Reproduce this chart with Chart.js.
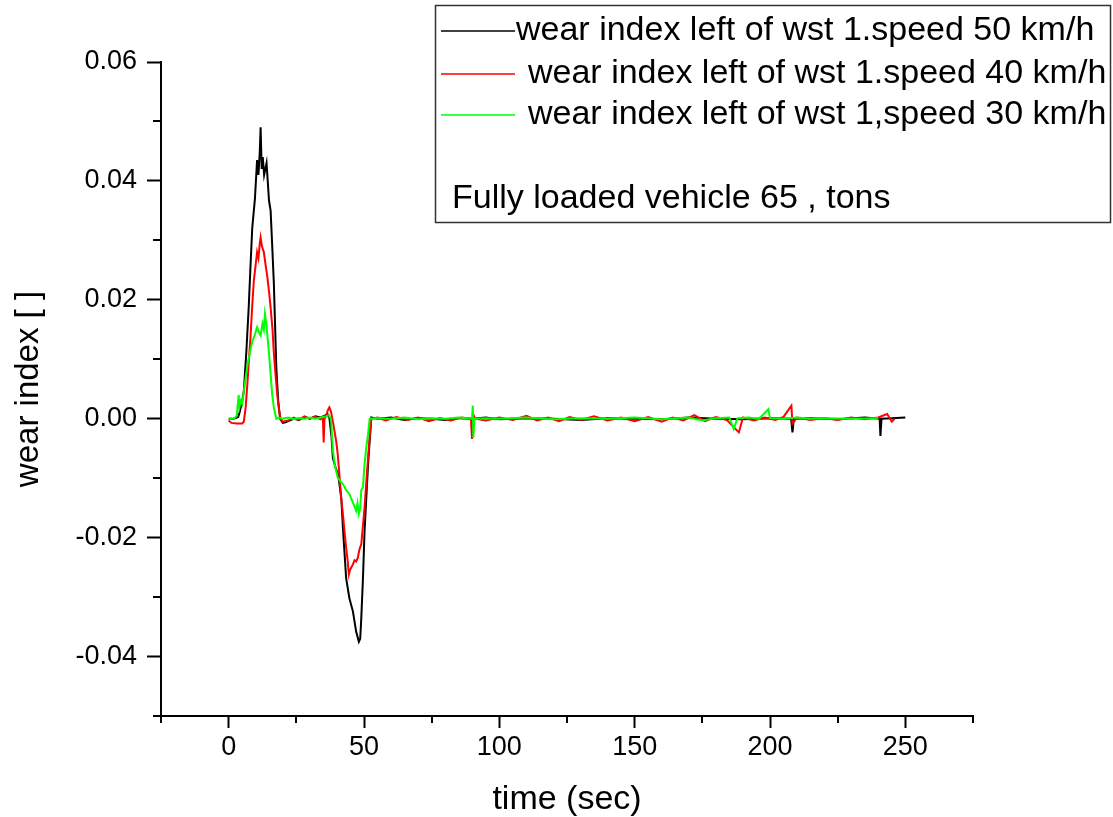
<!DOCTYPE html>
<html><head><meta charset="utf-8">
<script src="https://cdn.jsdelivr.net/npm/chart.js@4.4.1/dist/chart.umd.min.js"></script>
<style>html,body{margin:0;padding:0;background:#fff;}canvas{display:block}</style>
</head><body>
<canvas id="c" width="1113" height="817"></canvas>
<script>
// ---- data ----
const seriesLabels = [
  'wear index left of wst 1.speed 50 km/h',
  'wear index left of wst 1.speed 40 km/h',
  'wear index left of wst 1,speed 30 km/h'
];
const legendNote = 'Fully loaded vehicle 65 , tons';
const xTitle = 'time (sec)';
const yTitle = 'wear index [ ]';
const xTickValues = [0, 50, 100, 150, 200, 250];
const yTickValues = [-0.04, -0.02, 0.00, 0.02, 0.04, 0.06];
const xMinorTicks = [-25, 25, 75, 125, 175, 225, 275];
const yMinorTicks = [-0.05, -0.03, -0.01, 0.01, 0.03, 0.05];

// 50 km/h (black)
const blackT = [0, 2, 3.5, 4, 5, 5.6, 6.5, 7.4, 8, 8.7, 9.7, 10.5, 11, 11.5, 11.8, 12.2, 12.6, 13.1, 14, 14.9, 15.5, 16, 16.7, 17.6, 18.3, 19, 20, 21, 22, 24, 26, 28, 30, 32, 34, 35.5, 36.5, 37.2, 38, 38.5, 39.5, 40.5, 41.6, 42.3, 43.4, 44.6, 45.9, 47.1, 48.1, 48.6, 49, 49.6, 50.2, 51, 51.5, 52.2, 52.7,
  55, 60, 65, 70, 75, 80, 85, 90, 95, 100, 110, 120, 130, 140, 150, 160, 170, 180, 190, 200, 207.8, 208.3, 208.8, 215, 225, 235, 240.5, 240.8, 241.2, 245, 250];
const blackV = [0, 0, 0.0003, 0.001, 0.003, 0.0047, 0.011, 0.0187, 0.025, 0.032, 0.037, 0.0435, 0.041, 0.045, 0.049, 0.042, 0.044, 0.041, 0.043, 0.0367, 0.035, 0.030, 0.0227, 0.0086, 0.003, 0, -0.0007, -0.0006, -0.0004, 0, -0.0002, 0.0003, 0, 0.0004, 0.0002, 0.0005, 0.0008, 0.0002, -0.003, -0.0066, -0.0082, -0.0095, -0.0133, -0.019, -0.0268, -0.0302, -0.0324, -0.0358, -0.0375, -0.037, -0.0335, -0.027, -0.019, -0.012, -0.0077, -0.003, 0.0002,
  0, 0.0002, -0.0002, 0.0001, 0, -0.0002, 0.0001, 0, 0.0002, -0.0001, 0.0001, 0, -0.0002, 0.0001, 0, -0.0001, 0.0002, 0, -0.0001, 0.0001, 0, -0.0023, 0, 0.0001, -0.0001, 0.0002, 0, -0.0029, 0, 0.0001, 0.0002];

// 40 km/h (red)
const redT = [0, 1, 3, 5, 5.6, 6.3, 6.9, 7.5, 8.1, 8.7, 9.3, 10, 10.5, 11, 11.5, 11.8, 12.3, 13, 13.6, 14.3, 15, 15.5, 16.2, 16.7, 17.3, 17.9, 18.6, 19.2, 20, 22, 24, 26, 28, 30, 32, 34, 34.8, 35.1, 35.4, 36, 36.7, 37.2, 37.8, 38.7, 39.7, 40.3, 40.9, 41.5, 42.2, 42.8, 43.4, 44, 44.4, 44.8, 45.3, 45.9, 46.5, 47.1, 47.7, 48.3, 49, 49.6, 50.2, 50.8, 51.5, 52.1, 52.7,
  55, 58, 62, 66, 70, 74, 78, 82, 86, 89.5, 89.9, 90.3, 91, 95, 100, 105, 110, 114, 118, 122, 126, 130, 135, 140, 145, 150, 155, 160, 164, 168, 172, 176, 180, 184, 188.5, 190, 194, 198, 202, 205, 207.9, 208.3, 210, 215, 220, 225, 230, 235, 240, 243.3, 245, 246];
const redV = [-0.0003, -0.0007, -0.0008, -0.0008, -0.0005, 0.002, 0.0058, 0.010, 0.014, 0.019, 0.0232, 0.026, 0.028, 0.027, 0.0295, 0.0305, 0.029, 0.028, 0.026, 0.0238, 0.021, 0.0187, 0.015, 0.011, 0.0075, 0.0042, 0.0015, 0, -0.0005, -0.0003, 0.0002, -0.0002, 0.0004, 0, 0.0003, -0.0001, 0.0002, -0.004, 0, 0.0005, 0.0015, 0.0019, 0.0012, -0.001, -0.0037, -0.006, -0.0093, -0.013, -0.016, -0.019, -0.0217, -0.024, -0.0262, -0.0255, -0.025, -0.0245, -0.0238, -0.024, -0.0234, -0.022, -0.0211, -0.018, -0.015, -0.011, -0.0066, -0.003, 0,
  0.0002, -0.0003, 0.0003, -0.0002, 0.0002, -0.0004, 0.0001, -0.0003, 0.0002, 0, -0.0034, 0.0008, 0, -0.0003, 0.0002, -0.0002, 0.0005, -0.0003, 0.0002, -0.0004, 0.0003, -0.0002, 0.0004, -0.0003, 0.0002, -0.0004, 0.0003, -0.0005, 0.0002, -0.0003, 0.0006, -0.0004, 0.0003, -0.0002, -0.0023, 0.0002, -0.0003, 0.0002, -0.0002, 0.0003, 0.0022, -0.0008, 0.0002, -0.0002, 0.0001, -0.0002, 0.0002, -0.0001, 0.0002, 0.0008, -0.0005, 0];

// 30 km/h (green)
const greenT = [0, 2, 3, 3.7, 4, 4.5, 5, 5.6, 6.3, 6.9, 7.8, 8.7, 9.6, 10.5, 11.2, 11.8, 12.5, 13, 13.4, 13.9, 14.3, 14.9, 15.5, 16.1, 16.7, 17.2, 17.6, 18.5, 20, 22, 24, 26, 28, 30, 32, 34, 36, 37, 37.8, 38.5, 39.3, 40.3, 41.2, 42.2, 43.4, 44.6, 45.8, 47.1, 47.6, 48.1, 48.6, 49, 49.6, 50.2, 50.8, 51.5, 52.1,
  55, 60, 65, 70, 75, 80, 85, 89.9, 90.2, 90.4, 90.8, 95, 100, 110, 120, 130, 140, 150, 160, 170, 175, 180, 185, 186.6, 188, 192, 196, 199.4, 200, 205, 210, 215, 220, 230, 240];
const greenV = [0, 0, 0.0005, 0.004, 0.002, 0.003, 0.0025, 0.0047, 0.007, 0.009, 0.011, 0.013, 0.014, 0.0154, 0.0145, 0.014, 0.016, 0.015, 0.0176, 0.016, 0.014, 0.011, 0.0075, 0.004, 0.0019, 0.0008, 0, 0.0002, 0, 0.0002, -0.0001, 0.0001, 0, 0.0002, 0, 0.0002, 0.0004, 0.0006, 0, -0.0054, -0.008, -0.0099, -0.0105, -0.011, -0.012, -0.0127, -0.014, -0.0155, -0.0142, -0.016, -0.015, -0.012, -0.0115, -0.0077, -0.005, -0.0026, 0,
  0.0001, 0, 0.0002, -0.0001, 0.0001, 0, 0.0002, 0, 0.0022, -0.0032, 0, 0.0001, 0, 0.0002, -0.0001, 0.0001, 0, 0.0002, -0.0001, 0.0002, -0.0003, 0.0001, 0.0002, -0.0017, 0.0001, 0.0002, 0, 0.0016, 0.0001, 0, 0.0002, 0, 0.0001, 0, 0.0001];

// ---- chart ----
const FONT = '"Liberation Sans", Arial, sans-serif';
const seriesColors = ['#000000', '#ff0000', '#00ff00'];
const toPts = (t, v) => t.map((x, i) => ({x: x, y: v[i]}));

const overlayPlugin = {
  id: 'overlay',
  afterDraw(chart) {
    const ctx = chart.ctx;
    const xs = chart.scales.x, ys = chart.scales.y;
    ctx.save();
    ctx.strokeStyle = '#000';
    ctx.lineWidth = 2;
    // minor ticks
    const xb = chart.chartArea.bottom, yl = chart.chartArea.left;
    xMinorTicks.forEach(v => {
      const px = Math.round(xs.getPixelForValue(v));
      ctx.beginPath(); ctx.moveTo(px, xb); ctx.lineTo(px, xb + 7); ctx.stroke();
    });
    yMinorTicks.forEach(v => {
      const py = Math.round(ys.getPixelForValue(v));
      ctx.beginPath(); ctx.moveTo(yl, py); ctx.lineTo(yl - 8, py); ctx.stroke();
    });
    // legend box
    ctx.strokeStyle = '#333';
    ctx.lineWidth = 1.5;
    ctx.strokeRect(435.5, 5.5, 675, 217);
    const rows = [
      {y: 31, tx: 516},
      {y: 74, tx: 528},
      {y: 115, tx: 528}
    ];
    ctx.font = '34px ' + FONT;
    ctx.textBaseline = 'middle';
    ctx.textAlign = 'left';
    ctx.fillStyle = '#000';
    rows.forEach((r, i) => {
      ctx.strokeStyle = seriesColors[i];
      ctx.lineWidth = 1.5;
      ctx.beginPath(); ctx.moveTo(441, r.y); ctx.lineTo(515, r.y); ctx.stroke();
      ctx.fillText(seriesLabels[i], r.tx, r.y);
    });
    ctx.fillText(legendNote, 452, 199);
    ctx.restore();
  }
};

new Chart(document.getElementById('c'), {
  type: 'line',
  data: {
    datasets: [
      {label: seriesLabels[0], data: toPts(blackT, blackV), borderColor: seriesColors[0], order: 2},
      {label: seriesLabels[1], data: toPts(redT, redV), borderColor: seriesColors[1], order: 1},
      {label: seriesLabels[2], data: toPts(greenT, greenV), borderColor: seriesColors[2], order: 0}
    ].map(d => Object.assign(d, {borderWidth: 2, pointRadius: 0, tension: 0, fill: false}))
  },
  options: {
    responsive: false,
    animation: false,
    events: [],
    layout: {padding: {top: 62, right: 140, left: 0, bottom: 0}},
    plugins: {legend: {display: false}, tooltip: {enabled: false}},
    scales: {
      x: {
        type: 'linear', min: -25, max: 275,
        afterBuildTicks: s => { s.ticks = xTickValues.map(v => ({value: v})); },
        afterFit: s => { s.height = 101; },
        border: {display: true, color: '#000', width: 2},
        grid: {display: true, drawOnChartArea: false, drawTicks: true, tickLength: 12, tickColor: '#000', tickWidth: 2, color: '#000'},
        ticks: {color: '#000', font: {family: FONT, size: 27}, padding: 3, maxRotation: 0,
          callback: v => String(v)},
        title: {display: true, text: xTitle, color: '#000', font: {family: FONT, size: 34, lineHeight: 1}, padding: {top: 0, bottom: 0}}
      },
      y: {
        type: 'linear', min: -0.05, max: 0.06,
        afterBuildTicks: s => { s.ticks = yTickValues.map(v => ({value: v})); },
        afterFit: s => { s.width = 161; },
        border: {display: true, color: '#000', width: 2},
        grid: {display: true, drawOnChartArea: false, drawTicks: true, tickLength: 14, tickColor: '#000', tickWidth: 2, color: '#000'},
        ticks: {color: '#000', font: {family: FONT, size: 27}, padding: 10,
          callback: v => v.toFixed(2)},
        title: {display: true, text: yTitle, color: '#000', font: {family: FONT, size: 33, lineHeight: 1}, padding: {top: 12, bottom: 0}}
      }
    }
  },
  plugins: [overlayPlugin]
});
</script>
</body></html>
